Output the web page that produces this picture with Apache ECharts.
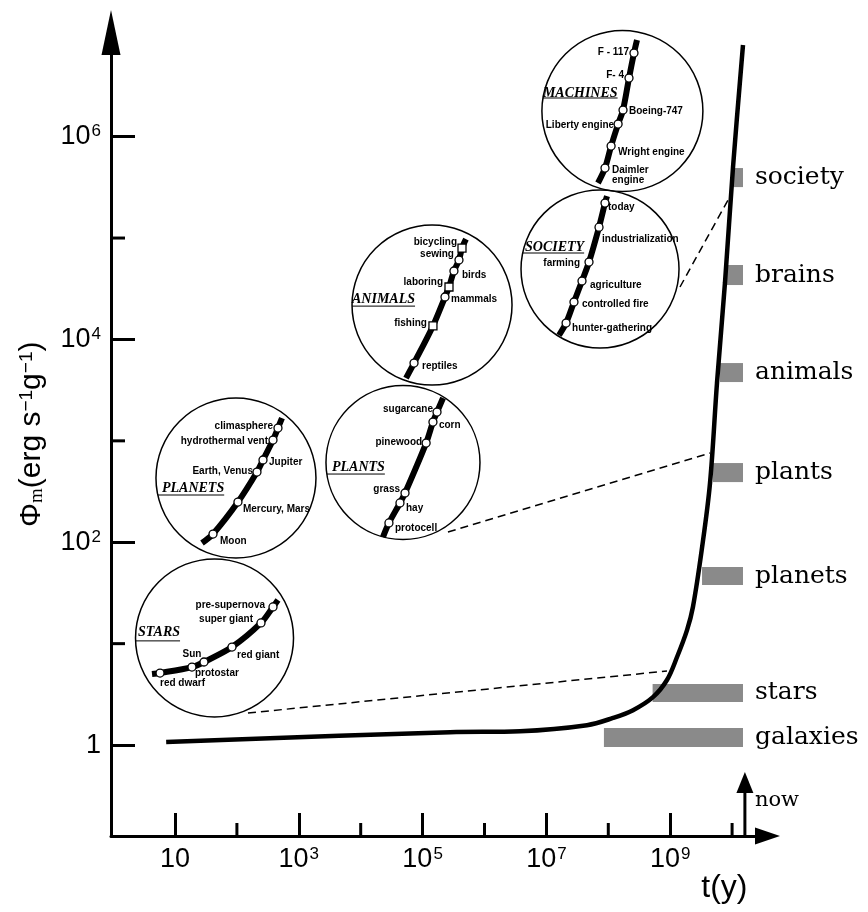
<!DOCTYPE html>
<html><head><meta charset="utf-8">
<script src="https://cdn.jsdelivr.net/npm/echarts@6/dist/echarts.min.js"></script>
<style>html,body{margin:0;padding:0;background:#fff}#c{width:868px;height:912px}</style>
</head><body><div id="c"></div>
<script>
// ================= DATA =================
// axis ticks
const xTickValues = [10, 1e3, 1e5, 1e7, 1e9];
const xTickLabels = ['10', '10{s|3}', '10{s|5}', '10{s|7}', '10{s|9}'];
const xMinorTickValues = [1e2, 1e4, 1e6, 1e8, 1e10];
const yTickValues = [1, 1e2, 1e4, 1e6];
const yTickLabels = ['1', '10{s|2}', '10{s|4}', '10{s|6}'];
const yMinorTickValues = [10, 1e3, 1e5];

// main curve  Phi_m(t)
const curveT   = [7.2, 2.77e5, 3.74e6, 4.53e7, 1.19e8, 2.51e8, 5.27e8, 8.87e8, 1.29e9, 1.87e9, 2.33e9, 3.23e9, 4.40e9, 5.70e9, 7.67e9, 1.035e10, 1.50e10];
const curvePhi = [1.07, 1.34, 1.37, 1.57, 1.85, 2.21, 2.97, 4.38, 7.38, 13.6, 23.0, 83.8, 384, 3715, 3.6e4, 5.0e5, 8.0e6];

// shaded bands on the right
const categories = ['galaxies', 'stars', 'planets', 'plants', 'animals', 'brains', 'society'];
const barStart = [8.5e7, 5.2e8, 3.27e9, 4.92e9, 6.38e9, 8.28e9, 1.035e10];
const barEnd   = [1.5e10, 1.5e10, 1.5e10, 1.5e10, 1.5e10, 1.5e10, 1.5e10];
const barLow   = [0.955, 2.66, 37.8, 392, 3800, 3.44e4, 3.18e5];
const barHigh  = [1.47, 4.0, 56.9, 604, 5850, 5.42e4, 4.9e5];

// insets
const starsLabels = ['', 'red dwarf', 'Sun', 'protostar', 'red giant', 'super giant', 'pre-supernova', ''];
const starsT   = [4.25, 5.73, 18.8, 29.4, 83.3, 245, 383, 461];
const starsPhi = [5.01, 5.13, 5.88, 6.59, 9.25, 16.0, 23.0, 26.9];

const planetsLabels = ['', 'Moon', 'Mercury, Mars', 'Earth, Venus', 'Jupiter', 'hydrothermal vent', 'climasphere', ''];
const planetsT   = [27.3, 41.1, 104, 211, 264, 383, 461, 535];
const planetsPhi = [98.2, 120.5, 249, 492, 647, 1018, 1337, 1679];

const plantsLabels = ['', 'protocell', 'hay', 'grass', 'pinewood', 'corn', 'sugarcane', ''];
const plantsT   = [2.29e4, 2.86e4, 4.31e4, 5.2e4, 1.14e5, 1.47e5, 1.71e5, 2.14e5];
const plantsPhi = [112.5, 155, 244, 306, 951, 1532, 1923, 2642];

const animalsLabels = ['', 'reptiles', 'fishing', 'mammals', 'laboring', 'birds', 'sewing', 'bicycling', ''];
const animalsT   = [5.4e4, 7.27e4, 1.47e5, 2.30e5, 2.67e5, 3.21e5, 3.87e5, 4.33e5, 5.02e5];
const animalsPhi = [4160, 5850, 1.36e4, 2.62e4, 3.29e4, 4.73e4, 6.07e4, 7.97e4, 9.77e4];
const animalsHuman = [0, 0, 1, 0, 1, 0, 0, 1, 0];

const machinesLabels = ['', 'Daimler\nengine', 'Wright engine', 'Liberty engine', 'Boeing-747', 'F- 4', 'F - 117', ''];
const machinesT   = [6.82e7, 8.85e7, 1.11e8, 1.44e8, 1.73e8, 2.16e8, 2.60e8, 2.91e8];
const machinesPhi = [3.49e5, 4.90e5, 8.07e5, 1.33e6, 1.83e6, 3.78e6, 6.67e6, 8.97e6];

const societyLabels = ['', 'hunter-gathering', 'controlled fire', 'agriculture', 'farming', 'industrialization', 'today', ''];
const societyT   = [1.60e7, 2.08e7, 2.79e7, 3.76e7, 4.88e7, 7.08e7, 8.85e7, 9.53e7];
const societyPhi = [1.10e4, 1.45e4, 2.34e4, 3.77e4, 5.80e4, 1.28e5, 2.21e5, 2.59e5];

const insetTitles = ['STARS', 'PLANETS', 'PLANTS', 'ANIMALS', 'MACHINES', 'SOCIETY'];
const insetCenterT   = [43.5, 96.6, 4.82e4, 1.42e5, 1.69e8, 7.35e7];
const insetCenterPhi = [11.4, 430, 611, 2.18e4, 1.79e6, 4.95e4];

// dashed connectors (from inset to main curve)
const connectorFrom = [[151, 2.07], [2.57e5, 126], [1.44e9, 3.29e4]];
const connectorTo   = [[8.87e8, 5.37], [4.40e9, 758], [8.59e9, 2.37e5]];

const nowT = 1.61e10;
const nowTipPhi = 0.542;

// ================= LAYOUT / STYLE =================
const X_MIN = 0.9247, X_MAX = 3.733e10, Y_MIN = 0.1268, Y_MAX = 1.064e7;
const insetRadius = [79, 80, 77, 80, 80.5, 79];
// [dx to title left, dy title centre, dy underline]
const titleLayout = [[-76.5, -5, 3], [-74, 10, 17], [-71, 4.5, 11.5], [-80, -6, 1], [-79.5, -18, -13], [-75, -22, -16]];
// point label offsets [dx, dy, align]
const labelLayout = {
  stars:    [null, [0, 10, 'left'], [0, -13, 'center'], [-9, 11, 'left'], [5, 8, 'left'], [-8, -4, 'right'], [-8, -2, 'right'], null],
  planets:  [null, [7, 7, 'left'], [5, 7, 'left'], [-4, -1, 'right'], [6, 2, 'left'], [-5, 1, 'right'], [-5, -2, 'right'], null],
  plants:   [null, [6, 5, 'left'], [6, 5, 'left'], [-5, -4, 'right'], [-4, -1, 'right'], [6, 3, 'left'], [-4, -3, 'right'], null],
  animals:  [null, [8, 3, 'left'], [-6, -3, 'right'], [6, 2, 'left'], [-6, -5, 'right'], [8, 4, 'left'], [-5, -6, 'right'], [-5, -6, 'right'], null],
  machines: [null, [7, 7, 'left'], [7, 6, 'left'], [-4, 1, 'right'], [6, 1, 'left'], [-5, -3, 'right'], [-5, -1, 'right'], null],
  society:  [null, [6, 5, 'left'], [8, 2, 'left'], [8, 4, 'left'], [-9, 1, 'right'], [3, 12, 'left'], [3, 4, 'left'], null]
};

const mctx = document.createElement('canvas').getContext('2d');
function measure(txt, font) { mctx.font = font; return mctx.measureText(txt).width; }
const TITLE_FONT = 'italic bold 14px "Liberation Serif"';

function nearestLabel(v, vals, labels) {
  let best = 0, bd = Infinity;
  vals.forEach((t, i) => { const d = Math.abs(Math.log10(t) - Math.log10(v)); if (d < bd) { bd = d; best = i; } });
  return labels[best];
}

function insetSeries(key, T, P, labels, shapes) {
  const lay = labelLayout[key];
  return {
    type: 'line', smooth: 0.3, z: 6, animation: false, silent: true,
    lineStyle: { color: '#000', width: 6 },
    symbolSize: 8,
    itemStyle: { color: '#fff', borderColor: '#000', borderWidth: 1.3 },
    label: { show: false, formatter: '{b}', fontSize: 10, fontWeight: 'bold', fontFamily: 'Liberation Sans', color: '#000', lineHeight: 10 },
    data: T.map((t, i) => {
      const isEnd = !labels[i];
      const item = { name: labels[i], value: [t, P[i]], symbol: isEnd ? 'none' : (shapes && shapes[i] ? 'rect' : 'circle') };
      if (!isEnd) {
        const l = lay[i];
        item.label = { show: true, position: 'inside', align: l[2], verticalAlign: 'middle', offset: [l[0], l[1]] };
      }
      return item;
    })
  };
}

const chart = echarts.init(document.getElementById('c'), null, { width: 868, height: 912 });
const axisFont = 'Liberation Sans';
chart.setOption({
  backgroundColor: '#fff',
  animation: false,
  grid: { left: 111, right: 100.5, top: 32.5, bottom: 76, outerBoundsMode: 'none' },
  xAxis: {
    type: 'log', min: X_MIN, max: X_MAX,
    name: 't(y)', nameLocation: 'end', nameGap: -20,
    nameTextStyle: { fontSize: 32, fontFamily: axisFont, color: '#000', align: 'right', verticalAlign: 'top', padding: [36, 0, 0, 0] },
    axisLine: { show: true, lineStyle: { color: '#000', width: 3 }, symbol: ['none', 'triangle'], symbolSize: [17, 25] },
    axisTick: { show: true, inside: true, length: 23, customValues: xTickValues, lineStyle: { color: '#000', width: 3 } },
    axisLabel: {
      show: true, customValues: xTickValues, margin: 10, fontSize: 27, fontFamily: axisFont, color: '#000',
      formatter: v => nearestLabel(v, xTickValues, xTickLabels),
      rich: { s: { fontSize: 17, fontFamily: axisFont, color: '#000', verticalAlign: 'top', padding: [0, 0, 0, 1] } }
    },
    splitLine: { show: false }, minorTick: { show: false }
  },
  yAxis: {
    type: 'log', min: Y_MIN, max: Y_MAX,
    name: 'Φ{sub|m}(erg s{sup|−1}g{sup|−1})', nameLocation: 'middle', nameGap: 64, nameRotate: 90,
    nameTextStyle: {
      fontSize: 30, fontFamily: axisFont, color: '#000',
      rich: {
        sub: { fontSize: 19, fontFamily: 'Liberation Serif', color: '#000', verticalAlign: 'bottom' },
        sup: { fontSize: 19, fontFamily: axisFont, color: '#000', verticalAlign: 'top' }
      }
    },
    axisLine: { show: true, lineStyle: { color: '#000', width: 3 }, symbol: ['none', 'triangle'], symbolSize: [19, 45] },
    axisTick: { show: true, inside: true, length: 24, customValues: yTickValues, lineStyle: { color: '#000', width: 3 } },
    axisLabel: {
      show: true, customValues: yTickValues, margin: 10, fontSize: 27, fontFamily: axisFont, color: '#000',
      formatter: v => nearestLabel(v, yTickValues, yTickLabels),
      rich: { s: { fontSize: 17, fontFamily: axisFont, color: '#000', verticalAlign: 'top', padding: [0, 0, 0, 1] } }
    },
    splitLine: { show: false }, minorTick: { show: false }
  },
  series: [
    // minor ticks
    {
      type: 'custom', z: 3, silent: true, clip: false,
      data: xMinorTickValues.map(v => [v, Y_MIN, 0]).concat(yMinorTickValues.map(v => [X_MIN, v, 1])),
      renderItem: (params, api) => {
        const p = api.coord([api.value(0), api.value(1)]);
        const horiz = api.value(2) === 1;
        return { type: 'line', shape: horiz ? { x1: p[0], y1: p[1], x2: p[0] + 14, y2: p[1] } : { x1: p[0], y1: p[1], x2: p[0], y2: p[1] - 13 },
          style: { stroke: '#000', lineWidth: 3 } };
      }
    },
    // inset circles with titles
    {
      type: 'custom', z: 2, silent: true, clip: false,
      data: insetTitles.map((n, i) => [insetCenterT[i], insetCenterPhi[i]]),
      renderItem: (params, api) => {
        const i = params.dataIndex;
        const c = api.coord([api.value(0), api.value(1)]);
        const r = insetRadius[i], tl = titleLayout[i];
        const tx = c[0] + tl[0], ty = c[1] + tl[1], uy = c[1] + tl[2];
        const w = measure(insetTitles[i], TITLE_FONT);
        const ux0 = c[0] - Math.sqrt(Math.max(0, r * r - tl[2] * tl[2]));
        return { type: 'group', children: [
          { type: 'circle', shape: { cx: c[0], cy: c[1], r: r }, style: { fill: 'rgba(0,0,0,0)', stroke: '#000', lineWidth: 1.5 } },
          { type: 'text', style: { text: insetTitles[i], x: tx, y: ty, fontStyle: 'italic', fontWeight: 'bold', fontSize: 14, fontFamily: 'Liberation Serif', fill: '#000', verticalAlign: 'middle', align: 'left' } },
          { type: 'line', shape: { x1: ux0, y1: uy, x2: tx + w, y2: uy }, style: { stroke: '#000', lineWidth: 1 } }
        ] };
      }
    },
    // dashed connectors
    {
      type: 'lines', coordinateSystem: 'cartesian2d', z: 3, silent: true,
      lineStyle: { color: '#000', width: 1.5, type: [8, 5], opacity: 1, curveness: 0 },
      data: connectorFrom.map((f, i) => ({ coords: [f, connectorTo[i]] }))
    },
    // shaded bands + labels
    {
      type: 'custom', z: 3, silent: true, clip: false,
      data: categories.map((c, i) => [barStart[i], barEnd[i], barLow[i], barHigh[i]]),
      renderItem: (params, api) => {
        const p1 = api.coord([api.value(0), api.value(3)]);
        const p2 = api.coord([api.value(1), api.value(2)]);
        return { type: 'group', children: [
          { type: 'rect', shape: { x: p1[0], y: p1[1], width: p2[0] - p1[0], height: p2[1] - p1[1] }, style: { fill: '#8a8a8a' } },
          { type: 'text', style: { text: categories[params.dataIndex], x: p2[0] + 12, y: (p1[1] + p2[1]) / 2, fontSize: 25, fontFamily: 'DejaVu Serif', fill: '#000', verticalAlign: 'middle', align: 'left' } }
        ] };
      }
    },
    // main curve
    {
      type: 'line', z: 5, silent: true, smooth: 0.35, symbol: 'none',
      lineStyle: { color: '#000', width: 4.5 },
      data: curveT.map((t, i) => [t, curvePhi[i]])
    },
    insetSeries('stars', starsT, starsPhi, starsLabels),
    insetSeries('planets', planetsT, planetsPhi, planetsLabels),
    insetSeries('plants', plantsT, plantsPhi, plantsLabels),
    insetSeries('animals', animalsT, animalsPhi, animalsLabels, animalsHuman),
    insetSeries('machines', machinesT, machinesPhi, machinesLabels),
    insetSeries('society', societyT, societyPhi, societyLabels),
    // "now" arrow
    {
      type: 'custom', z: 6, silent: true, clip: false,
      data: [[nowT, Y_MIN, nowTipPhi]],
      renderItem: (params, api) => {
        const b = api.coord([api.value(0), api.value(1)]);
        const tip = api.coord([api.value(0), api.value(2)]);
        const hl = 21, hw = 8.5;
        return { type: 'group', children: [
          { type: 'line', shape: { x1: b[0], y1: b[1], x2: tip[0], y2: tip[1] + hl }, style: { stroke: '#000', lineWidth: 3 } },
          { type: 'polygon', shape: { points: [[tip[0], tip[1]], [tip[0] - hw, tip[1] + hl], [tip[0] + hw, tip[1] + hl]] }, style: { fill: '#000' } },
          { type: 'text', style: { text: 'now', x: tip[0] + 10, y: tip[1] + 29, fontSize: 21, fontFamily: 'DejaVu Serif', fill: '#000', verticalAlign: 'middle', align: 'left' } }
        ] };
      }
    }
  ]
});
</script></body></html>
